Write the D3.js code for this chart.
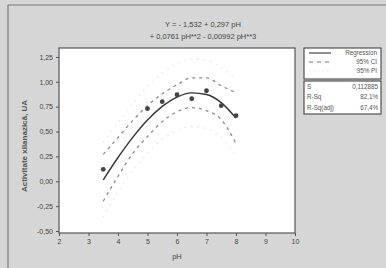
<!DOCTYPE html>
<html>
<head>
<meta charset="utf-8">
<script src="https://cdn.jsdelivr.net/npm/d3@7"></script>
<style>
  html, body { margin: 0; padding: 0; background: #d6d6d6; }
  svg { display: block; font-family: "Liberation Sans", Arial, sans-serif; }
</style>
</head>
<body>
<script>
// values
const phObs = [3.5, 5.0, 5.5, 6.0, 6.5, 7.0, 7.5, 8.0];
const actObs = [0.12, 0.73, 0.80, 0.87, 0.83, 0.91, 0.76, 0.66];

const phFit = [3.5, 4.0, 4.5, 5.0, 5.5, 6.0, 6.5, 7.0, 7.5, 8.0];
const fitVals = [0.014, 0.239, 0.442, 0.616, 0.753, 0.847, 0.889, 0.873, 0.791, 0.635];
const ciLow = [-0.20, 0.05, 0.28, 0.45, 0.60, 0.70, 0.74, 0.71, 0.62, 0.38];
const ciHigh = [0.27, 0.44, 0.61, 0.76, 0.88, 0.97, 1.04, 1.04, 0.96, 0.89];
const piLow = [-0.36, -0.11, 0.11, 0.28, 0.42, 0.51, 0.55, 0.53, 0.44, 0.25];
const piHigh = [0.39, 0.59, 0.78, 0.95, 1.09, 1.18, 1.23, 1.22, 1.14, 1.03];

const xTicks = [2, 3, 4, 5, 6, 7, 8, 9, 10];
const yTicks = [-0.50, -0.25, 0.00, 0.25, 0.50, 0.75, 1.00, 1.25];

const titleLines = ["Y = - 1,532 + 0,297 pH", "+ 0,0761 pH**2 - 0,00992 pH**3"];
const legendItems = ["Regression", "95% CI", "95% PI"];
const statNames = ["S", "R-Sq", "R-Sq(adj)"];
const statVals = ["0,112885", "82,1%", "67,4%"];

const W = 386, H = 268;
const plot = {left: 59, top: 48, right: 295, bottom: 233};

let svg = d3.select("body").append("svg")
        .attr("width", W)
        .attr("height", H);

// scanned page frame
svg.append("rect").attr("x", 0).attr("y", 0).attr("width", W).attr("height", H).attr("fill", "#d6d6d6");
svg.append("line").attr("x1", 8).attr("x2", 8).attr("y1", 5).attr("y2", H).attr("stroke", "#777").attr("stroke-width", 1.2);
svg.append("line").attr("x1", 8).attr("x2", W).attr("y1", 5).attr("y2", 5).attr("stroke", "#777").attr("stroke-width", 1.2);

let x = d3.scaleLinear().domain([2, 10]).range([plot.left, plot.right]);
let y = d3.scaleLinear().domain([-0.52, 1.34]).range([plot.bottom, plot.top]);

svg.append("rect")
   .attr("x", plot.left).attr("y", plot.top)
   .attr("width", plot.right - plot.left).attr("height", plot.bottom - plot.top)
   .attr("fill", "#fff").attr("stroke", "#555").attr("stroke-width", 1.2);

const fmt = d => d3.format(".2f")(d).replace(".", ",").replace("−", "-");

let xAxis = svg.append("g")
   .attr("transform", "translate(0," + plot.bottom + ")")
   .call(d3.axisBottom(x).tickValues(xTicks).tickSize(3).tickPadding(3).tickFormat(d3.format("d")));
let yAxis = svg.append("g")
   .attr("transform", "translate(" + plot.left + ",0)")
   .call(d3.axisLeft(y).tickValues(yTicks).tickSize(3).tickPadding(3).tickFormat(fmt));
[xAxis, yAxis].forEach(a => {
  a.select(".domain").remove();
  a.selectAll("line").attr("stroke", "#555");
  a.selectAll("text").attr("fill", "#444").attr("font-size", 7);
});

let line = (vals) => d3.line()
   .x((d, i) => x(phFit[i]))
   .y(d => y(d))
   .curve(d3.curveMonotoneX)(vals);

[piLow, piHigh].forEach(v => {
  svg.append("path").attr("d", line(v)).attr("fill", "none")
     .attr("stroke", "#e0e0e0").attr("stroke-width", 1.2).attr("stroke-dasharray", "1.5,5");
});
[ciLow, ciHigh].forEach(v => {
  svg.append("path").attr("d", line(v)).attr("fill", "none")
     .attr("stroke", "#8a8a8a").attr("stroke-width", 1.3).attr("stroke-dasharray", "3,4");
});
svg.append("path").attr("d", line(fitVals)).attr("fill", "none")
   .attr("stroke", "#333").attr("stroke-width", 1.4);

svg.selectAll("circle.obs").data(phObs).enter().append("circle")
   .attr("class", "obs")
   .attr("cx", d => x(d))
   .attr("cy", (d, i) => y(actObs[i]))
   .attr("r", 2.4)
   .attr("fill", "#444");

// title
svg.selectAll("text.title").data(titleLines).enter().append("text")
   .attr("class", "title")
   .attr("x", 203)
   .attr("y", (d, i) => 27 + i * 12)
   .attr("text-anchor", "middle")
   .attr("font-size", 7.5)
   .attr("fill", "#444")
   .text(d => d);

// axis titles
svg.append("text").attr("x", 177).attr("y", 259).attr("text-anchor", "middle")
   .attr("font-size", 7.5).attr("fill", "#444").text("pH");
svg.append("text").attr("transform", "translate(27,146) rotate(-90)")
   .attr("text-anchor", "middle").attr("font-size", 8).attr("font-weight", "bold")
   .attr("fill", "#555").text("Activitate xilanazică, UA");

// legend
const lg = {left: 304, right: 381, top: 48, mid: 80, bottom: 114};
let leg = svg.append("g");
leg.append("rect").attr("x", lg.left).attr("y", lg.top).attr("width", lg.right - lg.left)
   .attr("height", lg.mid - lg.top - 1).attr("fill", "#fff").attr("stroke", "#444").attr("stroke-width", 1.1);
leg.append("rect").attr("x", lg.left).attr("y", lg.mid + 1).attr("width", lg.right - lg.left)
   .attr("height", lg.bottom - lg.mid - 1).attr("fill", "#fff").attr("stroke", "#444").attr("stroke-width", 1.1);

const legStyles = [
  {stroke: "#444", dash: null},
  {stroke: "#777", dash: "4,4"},
  {stroke: "#e4e4e4", dash: "1.5,3"}
];
legendItems.forEach((t, i) => {
  let yy = lg.top + 5 + i * 9;
  leg.append("line").attr("x1", lg.left + 5).attr("x2", lg.left + 27).attr("y1", yy).attr("y2", yy)
     .attr("stroke", legStyles[i].stroke).attr("stroke-width", 1.2)
     .attr("stroke-dasharray", legStyles[i].dash);
  leg.append("text").attr("x", lg.right - 4).attr("y", yy + 2.3).attr("text-anchor", "end")
     .attr("font-size", 6.3).attr("fill", "#555").text(t);
});
statNames.forEach((t, i) => {
  let yy = lg.mid + 8.5 + i * 10.5;
  leg.append("text").attr("x", lg.left + 3).attr("y", yy).attr("font-size", 6.3).attr("fill", "#555").text(t);
  leg.append("text").attr("x", lg.right - 3).attr("y", yy).attr("text-anchor", "end")
     .attr("font-size", 6.3).attr("fill", "#555").text(statVals[i]);
});
</script>
</body>
</html>
